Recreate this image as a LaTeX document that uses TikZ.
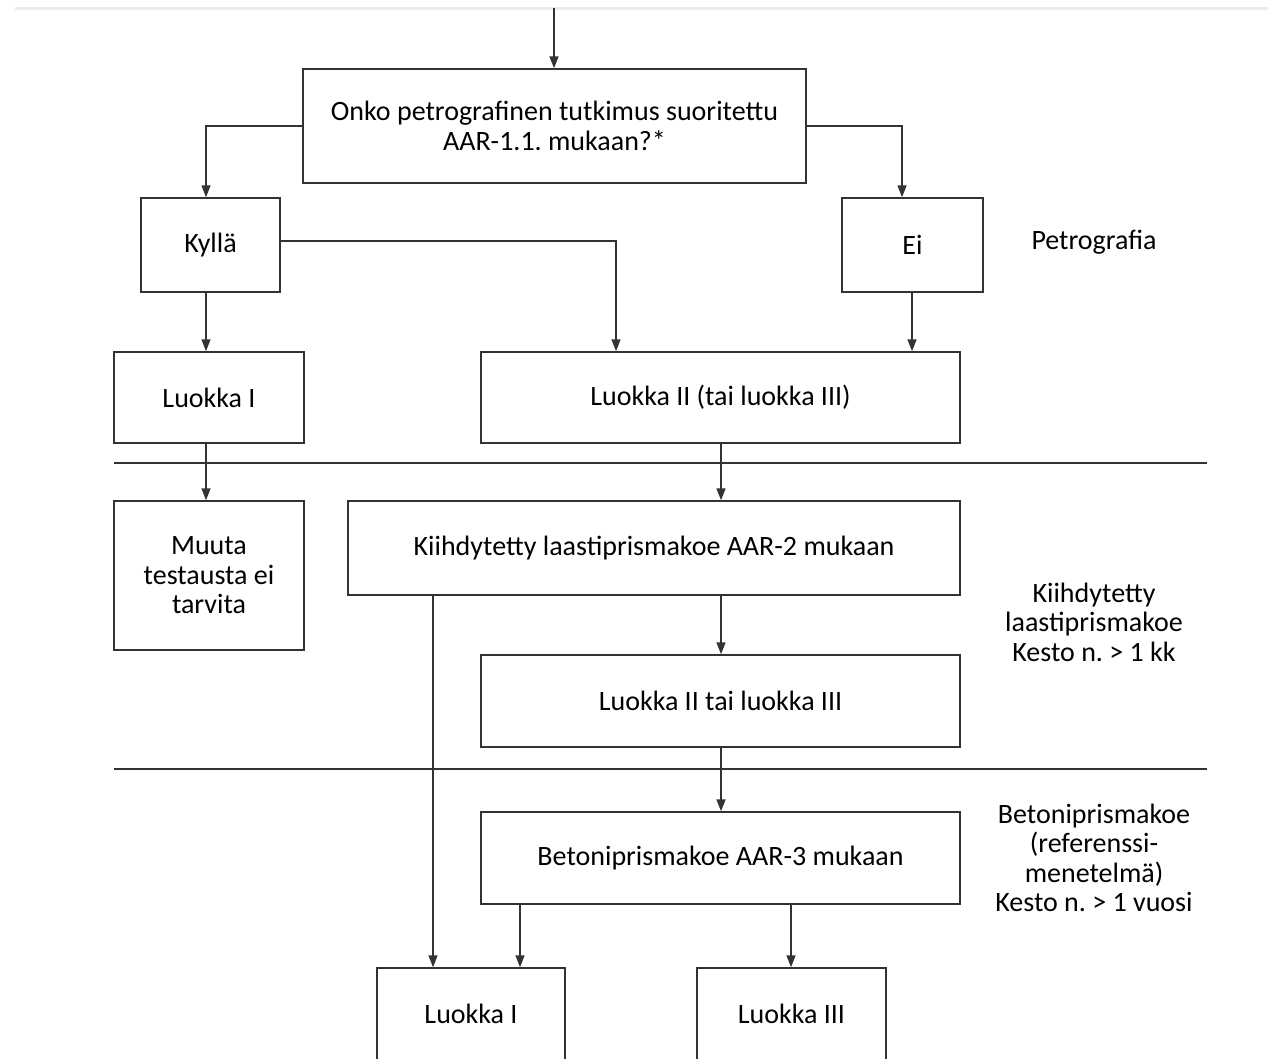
\documentclass[tikz,border=0pt]{standalone}
\usepackage{fontspec}
\setmainfont{Carlito}
\frenchspacing
\usetikzlibrary{arrows.meta}
\begin{document}
\begin{tikzpicture}[x=1pt,y=-1pt,
  box/.style={draw=black!80,line width=1.5pt,fill=white,align=center,inner sep=0pt,
    font=\fontsize{28}{29.5}\selectfont,text=black},
  arr/.style={draw=black!80,line width=1.6pt,-{Triangle[length=12pt,width=9pt]}},
  sep/.style={draw=black!80,line width=1.5pt},
  side/.style={align=center,font=\fontsize{28}{29.5}\selectfont,text=black}]
\useasboundingbox (0,0) rectangle (1268,1058);
\clip (0,0) rectangle (1268,1058);
\draw[gray!15,line width=3pt] (15,8) -- (1268,8);
\coordinate (start) at (554,8);
\node[box,minimum width=503,minimum height=114] (q) at (554.5,126) {Onko petrografinen tutkimus suoritettu\\AAR-1.1. mukaan?*};
\node[box,minimum width=139,minimum height=94] (kyl) at (210.5,245) {Kyllä};
\node[box,minimum width=141,minimum height=94] (ei) at (912.5,245) {Ei};
\node[side] (petro) at (1094,242) {Petrografia};
\node[box,minimum width=190,minimum height=91] (l1) at (209,397.5) {Luokka I};
\node[box,minimum width=479,minimum height=91] (l2) at (720.5,397.5) {Luokka II (tai luokka III)};
\coordinate (s1a) at (114,463); \coordinate (s1b) at (1207,463);
\node[box,minimum width=190,minimum height=149] (muuta) at (209,575.5) {Muuta\\testausta ei\\tarvita};
\node[box,minimum width=612,minimum height=94] (kiihd) at (654,548) {Kiihdytetty laastiprismakoe AAR-2 mukaan};
\node[side] (kside) at (1094,622) {Kiihdytetty\\laastiprismakoe\\Kesto n. > 1 kk};
\node[box,minimum width=479,minimum height=92] (l2b) at (720.5,701) {Luokka II tai luokka III};
\coordinate (s2a) at (114,769); \coordinate (s2b) at (1207,769);
\node[box,minimum width=479,minimum height=92] (beton) at (720.5,858) {Betoniprismakoe AAR-3 mukaan};
\node[side] (bside) at (1094,858) {Betoniprismakoe\\(referenssi-\\menetelmä)\\Kesto n. > 1 vuosi};
\node[box,minimum width=188,minimum height=92] (bl1) at (471,1014) {Luokka I};
\node[box,minimum width=189,minimum height=92] (bl3) at (791.5,1014) {Luokka III};
% connectors
\draw[arr] (start) -- (start |- q.north);
\draw[arr] (q.west) -| ([xshift=-4.5pt]kyl.north);
\draw[arr] (q.east) -| ([xshift=-10.5pt]ei.north);
\draw[arr] ([yshift=4pt]kyl.east) -| ([xshift=-104.5pt]l2.north);
\draw[arr] ([xshift=-4.5pt]kyl.south) -- ([xshift=-3pt]l1.north);
\draw[arr] ([xshift=-0.5pt]ei.south) -- ([xshift=-0.5pt]ei.south |- l2.north);
\draw[sep] (s1a) -- (s1b);
\draw[arr] ([xshift=-3pt]l1.south) -- ([xshift=-3pt]muuta.north);
\draw[arr] ([xshift=0.5pt]l2.south) -- ([xshift=0.5pt]l2.south |- kiihd.north);
\draw[arr] ([xshift=0.5pt]kiihd.south -| l2b.north) -- ([xshift=0.5pt]l2b.north);
\draw[arr] ([xshift=-38pt]bl1.north |- kiihd.south) -- ([xshift=-38pt]bl1.north);
\draw[sep] (s2a) -- (s2b);
\draw[arr] ([xshift=0.5pt]l2b.south) -- ([xshift=0.5pt]beton.north);
\draw[arr] ([xshift=49pt]bl1.north |- beton.south) -- ([xshift=49pt]bl1.north);
\draw[arr] ([xshift=-0.5pt]beton.south -| bl3.north) -- ([xshift=-0.5pt]bl3.north);
\end{tikzpicture}
\end{document}
